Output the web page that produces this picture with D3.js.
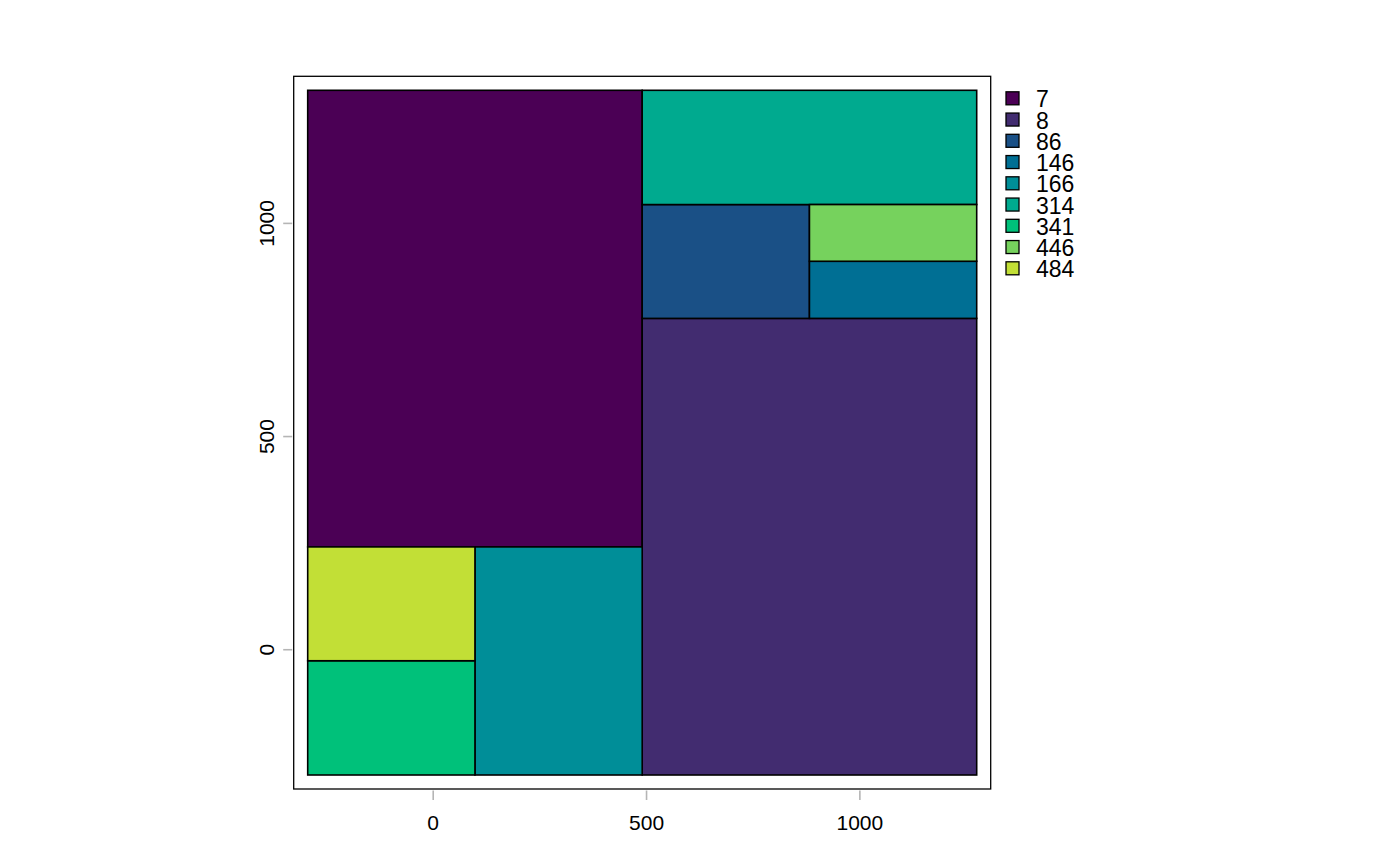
<!DOCTYPE html>
<html>
<head>
<meta charset="utf-8">
<script src="https://cdn.jsdelivr.net/npm/d3@7"></script>
<style>
  body { margin: 0; background: #fff; }
  text { font-family: "Liberation Sans", Arial, Helvetica, sans-serif; }
</style>
</head>
<body>
<div id="chart"></div>
<script>
// Polygon values (one rectangle per zone) and their extents
const labels = ["7", "8", "86", "146", "166", "314", "341", "446", "484"];
const colours = ["#4B0055", "#422C70", "#1A5086", "#006F94", "#008E98", "#00AA8F", "#00C17A", "#76D25D", "#C2DF36"];
const xmin = [-293, 491, 491, 883, 99, 491, -293, 883, -293];
const xmax = [491, 1275, 883, 1275, 491, 1275, 99, 1275, 99];
const ymin = [240, -295, 776, 776, -295, 1043, -295, 910, -27];
const ymax = [1311, 776, 1043, 910, 240, 1311, -27, 1043, 240];
const xTicks = [0, 500, 1000];
const yTicks = [0, 500, 1000];

const width = 1400, height = 866;
const pad = 14; // gap between data extent and frame

const zones = labels.map((lab, i) => ({
  lab, col: colours[i], x0: xmin[i], x1: xmax[i], y0: ymin[i], y1: ymax[i]
}));

const x = d3.scaleLinear()
  .domain([d3.min(xmin), d3.max(xmax)])
  .range([307.7, 976.7]);
const y = d3.scaleLinear()
  .domain([d3.min(ymin), d3.max(ymax)])
  .range([775, 90.3]);

const svg = d3.select("#chart").append("svg")
  .attr("width", width)
  .attr("height", height);

// Rectangles
svg.append("g").selectAll("rect")
  .data(zones)
  .enter()
  .append("rect")
  .attr("x", d => x(d.x0))
  .attr("y", d => y(d.y1))
  .attr("width", d => x(d.x1) - x(d.x0))
  .attr("height", d => y(d.y0) - y(d.y1))
  .attr("fill", d => d.col)
  .attr("stroke", "#000")
  .attr("stroke-width", 1.6);

// Frame
const [fx0, fx1] = [x.range()[0] - pad, x.range()[1] + pad];
const [fy0, fy1] = [y.range()[1] - pad, y.range()[0] + pad];
svg.append("rect")
  .attr("x", fx0).attr("y", fy0)
  .attr("width", fx1 - fx0).attr("height", fy1 - fy0)
  .attr("fill", "none")
  .attr("stroke", "#000")
  .attr("stroke-width", 1.3);

// Axes: gray ticks, no domain line
const xAxis = svg.append("g")
  .attr("transform", `translate(0,${fy1 + 1.5})`)
  .call(d3.axisBottom(x).tickValues(xTicks).tickSize(9.5).tickPadding(15).tickFormat(d3.format("d")));
const yAxis = svg.append("g")
  .attr("transform", `translate(${fx0 - 1.5},0)`)
  .call(d3.axisLeft(y).tickValues(yTicks).tickSize(9).tickFormat(d3.format("d")));

[xAxis, yAxis].forEach(a => {
  a.select(".domain").remove();
  a.selectAll(".tick line").attr("stroke", "#b5b5b5").attr("stroke-width", 1.6);
  a.selectAll("text").attr("fill", "#000").style("font-size", "21px")
    .style("font-family", "'Liberation Sans', Arial, sans-serif");
});

yAxis.selectAll(".tick text")
  .attr("x", null).attr("dy", null)
  .attr("transform", "translate(-26,0) rotate(-90)")
  .attr("text-anchor", "middle")
  .attr("dominant-baseline", "central");

// Legend
const leg = svg.append("g").selectAll("g")
  .data(zones)
  .enter()
  .append("g")
  .attr("transform", (d, i) => `translate(1006,${98.3 + i * 21.25})`);

leg.append("rect")
  .attr("x", 0).attr("y", -6.5)
  .attr("width", 13).attr("height", 13)
  .attr("fill", d => d.col)
  .attr("stroke", "#000")
  .attr("stroke-width", 1.3);

leg.append("text")
  .attr("x", 30)
  .attr("y", 1)
  .attr("dominant-baseline", "central")
  .style("font-size", "23px")
  .text(d => d.lab);
</script>
</body>
</html>
